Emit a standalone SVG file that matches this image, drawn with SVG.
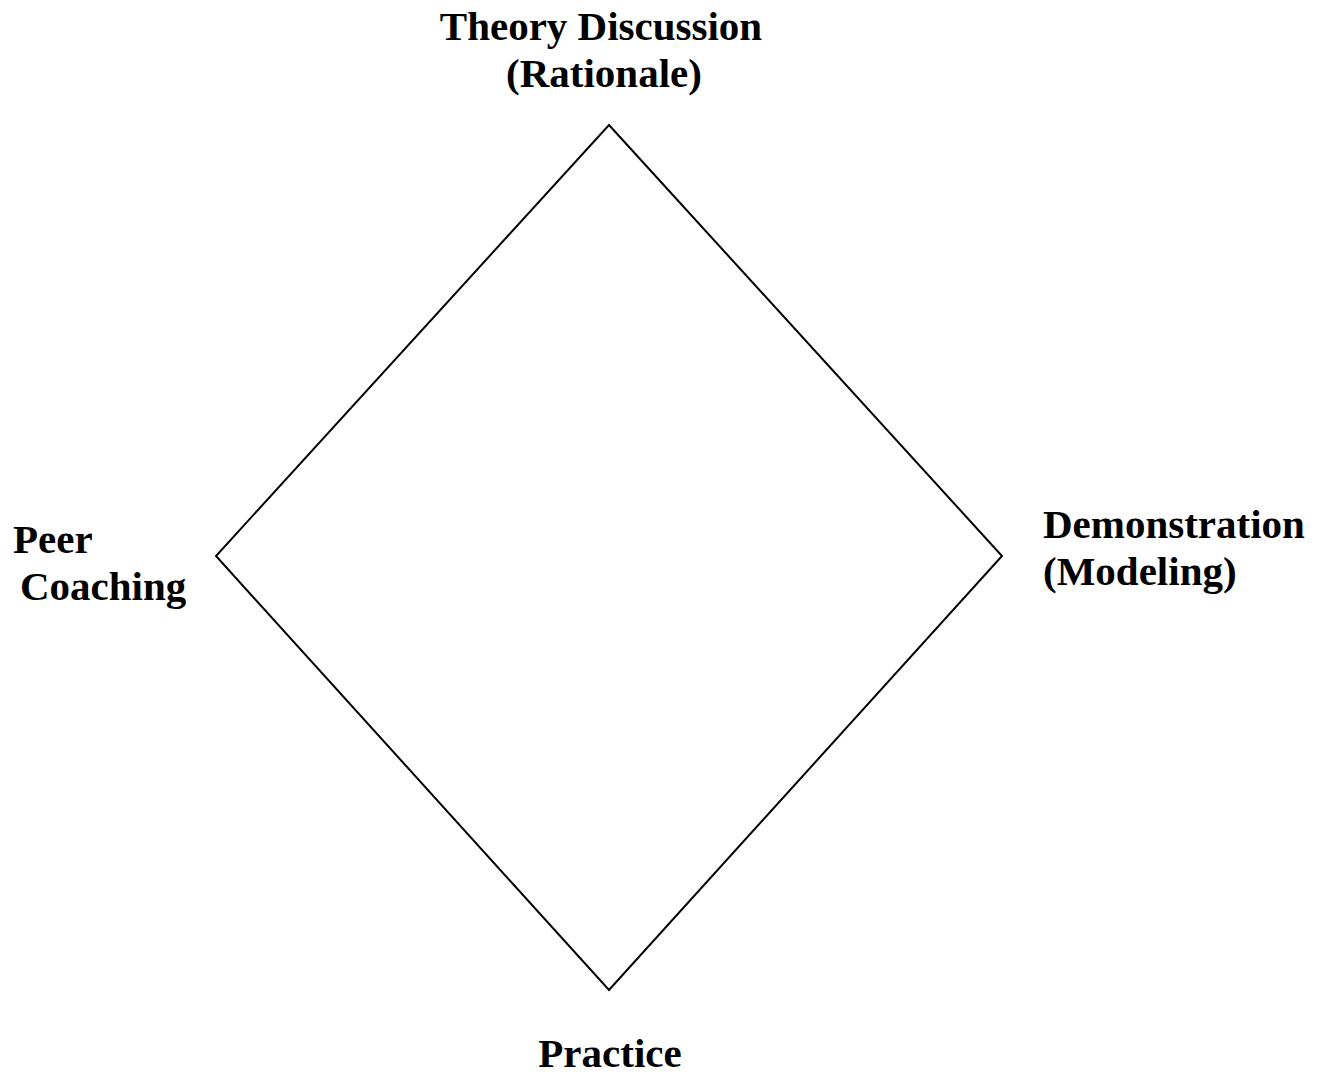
<svg xmlns="http://www.w3.org/2000/svg" width="1330" height="1078" viewBox="0 0 1330 1078">
<style>
.lbl{font-family:"Liberation Serif","Times New Roman",serif;font-weight:bold;font-size:41px;fill:#000}
.edge{fill:none;stroke:#000;stroke-width:2}
</style>
<rect width="1330" height="1078" fill="#fff"/>
<g id="connectors">
<path class="edge" d="M609,125 L1002,556 L609,990 L216,556 Z"/>
</g>
<g id="node-theory"><text class="lbl" x="601" y="40" text-anchor="middle">Theory Discussion</text><text class="lbl" x="604" y="87" text-anchor="middle">(Rationale)</text></g>
<g id="node-peer"><text class="lbl" x="13" y="553">Peer</text><text class="lbl" x="20" y="600">Coaching</text></g>
<g id="node-demo"><text class="lbl" x="1043" y="538">Demonstration</text><text class="lbl" x="1043" y="585">(Modeling)</text></g>
<g id="node-practice"><text class="lbl" x="610" y="1067" text-anchor="middle">Practice</text></g>
</svg>
